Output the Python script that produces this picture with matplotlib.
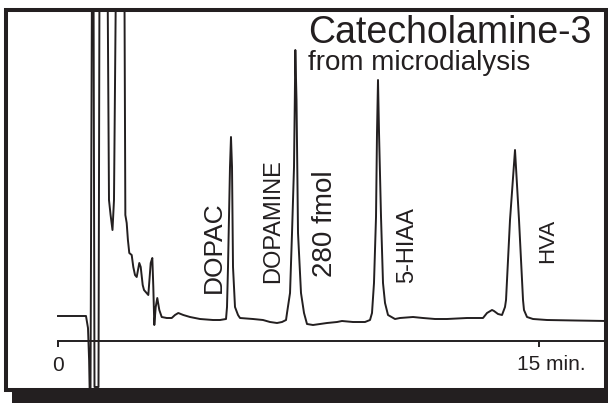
import matplotlib
matplotlib.use("Agg")
import matplotlib.pyplot as plt
from matplotlib.patches import Rectangle

plt.rcParams['font.family'] = ['Liberation Sans', 'DejaVu Sans']

INK = '#231f20'

# chromatogram trace: time (min) and detector response (arb. units)
time_min = [0.000, 0.873, 0.935, 0.970, 0.990, 1.013, 1.060, 1.107, 1.138, 1.263,
            1.294, 1.544, 1.590, 1.640, 1.699, 1.746, 1.809, 2.070, 2.100, 2.142,
            2.180, 2.223, 2.298, 2.348, 2.401, 2.454, 2.535, 2.579, 2.641, 2.682,
            2.816, 2.891, 2.941, 2.972, 3.003, 3.047, 3.096, 3.159, 3.234, 3.390,
            3.546, 3.648, 3.751, 3.907, 4.116, 4.428, 4.833, 5.052, 5.239,
            5.270, 5.301, 5.363, 5.394, 5.426, 5.457, 5.519, 5.613, 5.675,
            6.080, 6.392, 6.611, 6.829, 6.985, 7.110,
            7.141, 7.235, 7.297, 7.359, 7.384, 7.400, 7.437, 7.461, 7.484, 7.577,
            7.671, 7.764, 7.951, 8.170, 8.388, 8.700, 8.855, 9.198, 9.573, 9.729,
            9.791, 9.853, 9.916, 9.947, 9.978, 10.010, 10.072, 10.134, 10.197, 10.290,
            10.508, 10.664, 11.070, 11.381, 11.756, 12.130, 12.753, 13.252, 13.377,
            13.533, 13.595, 13.720, 13.845, 13.938,
            13.970, 14.094, 14.250, 14.375, 14.500, 14.530, 14.624, 14.811, 15.248,
            16.121, 17.100]
response = [4, 4, -8, -40, -75, -75, 350, 350, -67, -67,
            350, 350, 120, 105, 90, 120, 350, 350, 105, 97,
            80, 67, 65, 53, 45, 43, 57, 53, 35, 30,
            25, 57, 62, 33, -5, 13, 22, 10, 3, 2,
            2, 5, 7, 5, 3, 1, 0, 0, 1,
            13, 53, 153, 183, 153, 53, 13, 5, 2,
            1, 0, -2, -3, -2, 0,
            7, 27, 87, 153, 220, 270, 220, 153, 87, 27,
            7, -4, -5, -4, -3, -2, -1, -2, -2, 0,
            7, 37, 103, 187, 240, 187, 103, 37, 17, 5,
            1, 2, 3, 2, 1, 1, 2, 2, 7,
            10, 9, 6, 5, 13,
            20, 100, 170, 100, 20, 10, 3, 1, 0,
            -0.5, -1]

peak_names = ['DOPAC', 'DOPAMINE', '280 fmol', '5-HIAA', 'HVA']
label_time = [4.864, 6.704, 8.326, 10.883, 15.279]
label_base = [27, 37, 43, 37, 57]
label_size = [19, 17, 20, 17, 16]

tick_pos = [0, 15]

fig = plt.figure(figsize=(6.08, 4.03), dpi=100)
W, H = 608.0, 403.0

# drop shadow under the frame, then the frame itself
fig.add_artist(Rectangle((12 / W, 0), 596 / W, 13 / H, transform=fig.transFigure,
                         facecolor=INK, edgecolor='none'))
fig.add_artist(Rectangle((6 / W, (H - 390) / H), 600 / W, 380.5 / H,
                         transform=fig.transFigure, facecolor='none',
                         edgecolor=INK, linewidth=2.9))

ax = fig.add_axes([8 / W, (H - 389) / H, 596 / W, 377 / H])
ax.set_facecolor('none')
ax.plot(time_min, response, color=INK, lw=1.4)
ax.set_xlim(-1.559, 17.025)
ax.set_ylim(-69, 308)

for side in ['top', 'left', 'right']:
    ax.spines[side].set_visible(False)
ax.spines['bottom'].set_position(('data', -21))
ax.spines['bottom'].set_bounds(0, 17.1)
ax.spines['bottom'].set_linewidth(1.4)
ax.spines['bottom'].set_color(INK)
ax.set_yticks([])
ax.set_xticks(tick_pos, ['0', ''])
ax.tick_params(axis='x', direction='out', length=4.5, width=1.4, color=INK,
               labelsize=15, labelcolor=INK, pad=6)
ax.text(14.31, -45, '15 min.', ha='left', va='center', fontsize=15, color=INK)

ax.text(7.795, 277, 'Catecholamine-3', ha='left', va='baseline', fontsize=27, color=INK)
ax.text(7.795, 250, 'from microdialysis', ha='left', va='baseline', fontsize=20, color=INK)

for name, t, b, fs in zip(peak_names, label_time, label_base, label_size):
    ax.text(t, b, name, rotation=90, ha='center', va='bottom', fontsize=fs, color=INK)

fig.savefig('out.png', dpi=100)
